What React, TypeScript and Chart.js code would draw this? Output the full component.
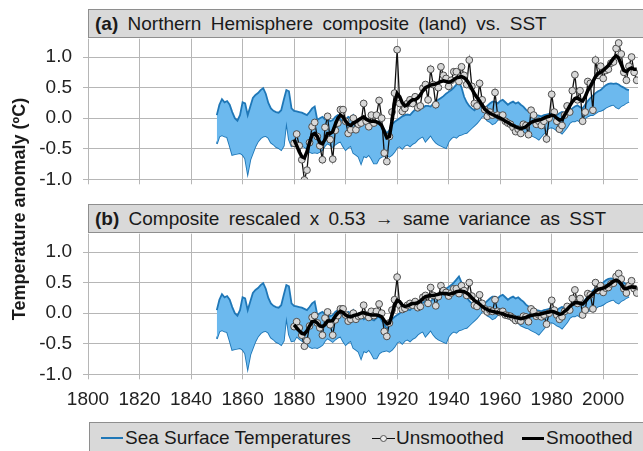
import React, { useEffect, useRef } from 'react';
import { Chart, registerables } from 'chart.js';

Chart.register(...registerables);

const FONT = '"Liberation Sans", Arial, sans-serif';

const X_TICKS = [1800, 1820, 1840, 1860, 1880, 1900, 1920, 1940, 1960, 1980, 2000];
const Y_TICKS = [-1.0, -0.5, 0.0, 0.5, 1.0];

const SST_START = 1850;
const SST_UPPER = [
  0.05, 0.22, 0.31, 0.26, 0.28, 0.22, 0.10, 0.00, -0.04, 0.05,
  0.26, 0.24, 0.05, 0.19, 0.33, 0.38, 0.41, 0.46, 0.49, 0.40,
  0.25, 0.16, 0.12, 0.10, 0.09, 0.13, 0.30, 0.46, 0.44, 0.16,
  0.12, 0.11, 0.10, 0.09, 0.07, 0.05, 0.10, 0.16, 0.19, -0.03,
  0.00, 0.02, -0.02, 0.00, -0.05, -0.03, 0.02, 0.05, -0.02, -0.05,
  -0.03, 0.02, 0.00, 0.05, -0.02, -0.05, -0.03, -0.10, -0.08, -0.08,
  -0.10, -0.12, -0.08, -0.05, -0.12, -0.18, -0.25, -0.20, -0.10, -0.06,
  -0.03, 0.00, 0.03, 0.05, 0.06, 0.05, 0.10, 0.14, 0.12, 0.15,
  0.17, 0.20, 0.20, 0.19, 0.24, 0.28, 0.30, 0.33, 0.36, 0.40,
  0.43, 0.46, 0.50, 0.55, 0.60, 0.50, 0.35, 0.26, 0.20, 0.16,
  0.13, 0.17, 0.20, 0.18, 0.16, 0.20, 0.24, 0.27, 0.27, 0.24,
  0.28, 0.30, 0.26, 0.22, 0.25, 0.27, 0.24, 0.26, 0.22, 0.19,
  0.14, 0.11, 0.09, 0.08, 0.05, 0.04, 0.03, 0.05, 0.06, 0.07,
  0.08, 0.06, 0.05, 0.08, 0.10, 0.09, 0.08, 0.12, 0.16, 0.19,
  0.21, 0.18, 0.16, 0.22, 0.28, 0.33, 0.37, 0.41, 0.44, 0.46,
  0.50, 0.54, 0.56, 0.57, 0.56, 0.57, 0.55, 0.52, 0.50, 0.47,
  0.46,
];
const SST_LOWER = [
  -0.42, -0.30, -0.28, -0.30, -0.31, -0.45, -0.60, -0.59, -0.58, -0.57,
  -0.60, -0.66, -0.90, -0.68, -0.57, -0.46, -0.38, -0.33, -0.30, -0.29,
  -0.32, -0.40, -0.43, -0.47, -0.49, -0.52, -0.45, -0.05, -0.35, -0.46,
  -0.45, -0.38, -0.42, -0.45, -0.47, -0.50, -0.55, -0.57, -0.56, -0.57,
  -0.55, -0.52, -0.45, -0.41, -0.44, -0.47, -0.43, -0.40, -0.38, -0.46,
  -0.52, -0.48, -0.45, -0.57, -0.60, -0.63, -0.74, -0.62, -0.64, -0.60,
  -0.66, -0.74, -0.74, -0.66, -0.63, -0.62, -0.61, -0.63, -0.60, -0.55,
  -0.48, -0.46, -0.50, -0.45, -0.43, -0.46, -0.42, -0.40, -0.35, -0.32,
  -0.30, -0.38, -0.33, -0.28, -0.35, -0.40, -0.43, -0.45, -0.47, -0.49,
  -0.38, -0.33, -0.30, -0.32, -0.28, -0.27, -0.25, -0.24, -0.20, -0.16,
  -0.12, -0.08, -0.03, 0.03, 0.02, -0.04, -0.06, -0.10, -0.08, -0.03,
  0.01, -0.03, -0.06, -0.08, -0.10, -0.12, -0.13, -0.16, -0.20, -0.22,
  -0.24, -0.25, -0.28, -0.30, -0.32, -0.35, -0.30, -0.25, -0.20, -0.16,
  -0.15, -0.17, -0.20, -0.22, -0.25, -0.20, -0.15, -0.08, -0.05, -0.05,
  -0.03, -0.06, -0.05, 0.00, 0.03, 0.05, 0.05, 0.08, 0.11, 0.12,
  0.14, 0.17, 0.19, 0.21, 0.22, 0.18, 0.16, 0.20, 0.22, 0.25,
  0.27,
];

const COMP_START = 1880;
const A_UNSMOOTHED = [
  -0.41, -0.26, -0.45, -0.68, -1.01, -0.85, -0.40, -0.14, -0.07, -0.30,
  -0.45, -0.68, -0.15, 0.03, -0.35, -0.67, -0.20, -0.08, 0.14, 0.14,
  -0.05, -0.25, -0.19, 0.00, -0.19, -0.10, -0.08, 0.24, -0.05, -0.14,
  0.05, -0.08, 0.05, 0.29, 0.00, -0.57, -0.71, -0.30, 0.10, 0.41,
  1.12, 0.24, 0.11, 0.16, 0.24, 0.30, 0.24, 0.35, 0.17, 0.20,
  0.49, 0.55, 0.30, 0.80, 0.55, 0.22, 0.50, 0.84, 0.70, 0.65,
  0.52, 0.62, 0.76, 0.76, 0.60, 0.84, 0.70, 0.55, 0.95, 0.52,
  0.24, 0.20, 0.57, 0.30, 0.14, 0.03, 0.10, 0.05, 0.42, 0.05,
  0.02, 0.05, -0.05, -0.08, -0.10, -0.15, -0.22, -0.18, -0.25, -0.10,
  -0.12, -0.27, 0.13, 0.05, -0.10, -0.05, -0.12, -0.05, -0.34, 0.00,
  0.39, 0.10, -0.05, -0.18, -0.12, 0.05, 0.20, 0.10, 0.45, 0.71,
  0.30, 0.45, -0.05, 0.10, 0.60, 0.57, 0.13, 0.95, 0.70, 0.85,
  0.65, 0.78, 0.80, 0.90, 0.92, 1.14, 1.23, 1.05, 0.75, 0.62,
  0.85, 1.00, 0.75, 0.62,
];
const A_SMOOTHED = [
  -0.35, -0.45, -0.55, -0.63, -0.65, -0.55, -0.40, -0.27, -0.25, -0.30,
  -0.40, -0.42, -0.35, -0.25, -0.25, -0.22, -0.10, 0.00, 0.05, 0.02,
  -0.05, -0.10, -0.12, -0.08, -0.06, -0.03, 0.00, 0.02, -0.02, -0.04,
  -0.05, -0.05, -0.06, -0.08, -0.12, -0.22, -0.32, -0.30, -0.05, 0.25,
  0.40, 0.35, 0.25, 0.20, 0.22, 0.27, 0.30, 0.30, 0.33, 0.38,
  0.45, 0.50, 0.52, 0.54, 0.55, 0.56, 0.58, 0.60, 0.61, 0.60,
  0.59, 0.60, 0.63, 0.66, 0.67, 0.68, 0.66, 0.62, 0.56, 0.48,
  0.40, 0.34, 0.28, 0.21, 0.15, 0.11, 0.08, 0.06, 0.04, 0.02,
  0.00, -0.02, -0.05, -0.07, -0.10, -0.12, -0.14, -0.16, -0.17, -0.16,
  -0.14, -0.10, -0.07, -0.05, -0.04, -0.03, -0.02, 0.00, 0.02, 0.03,
  0.05, 0.04, 0.00, -0.03, -0.02, 0.05, 0.12, 0.20, 0.27, 0.32,
  0.33, 0.30, 0.28, 0.35, 0.45, 0.52, 0.60, 0.68, 0.73, 0.75,
  0.78, 0.82, 0.86, 0.92, 0.98, 1.02, 0.98, 0.88, 0.78, 0.76,
  0.80, 0.82, 0.80, 0.80,
];
const B_UNSMOOTHED = [
  -0.22, -0.14, -0.24, -0.36, -0.54, -0.45, -0.21, -0.07, -0.04, -0.16,
  -0.24, -0.36, -0.08, 0.02, -0.19, -0.36, -0.11, -0.04, 0.07, 0.07,
  -0.03, -0.13, -0.10, 0.00, -0.10, -0.05, -0.04, 0.13, -0.03, -0.07,
  0.03, -0.04, 0.03, 0.15, 0.00, -0.30, -0.38, -0.16, 0.05, 0.22,
  0.59, 0.13, 0.06, 0.08, 0.13, 0.16, 0.13, 0.19, 0.09, 0.11,
  0.26, 0.29, 0.16, 0.42, 0.29, 0.12, 0.27, 0.45, 0.37, 0.34,
  0.28, 0.33, 0.40, 0.40, 0.32, 0.45, 0.37, 0.29, 0.50, 0.28,
  0.13, 0.11, 0.30, 0.16, 0.07, 0.02, 0.05, 0.03, 0.22, 0.03,
  0.01, 0.03, -0.03, -0.04, -0.05, -0.08, -0.12, -0.10, -0.13, -0.05,
  -0.06, -0.14, 0.07, 0.03, -0.05, -0.03, -0.06, -0.03, -0.18, 0.00,
  0.21, 0.05, -0.03, -0.10, -0.06, 0.03, 0.11, 0.05, 0.24, 0.38,
  0.16, 0.24, -0.03, 0.05, 0.32, 0.30, 0.07, 0.50, 0.37, 0.45,
  0.34, 0.41, 0.42, 0.48, 0.49, 0.60, 0.65, 0.56, 0.40, 0.33,
  0.45, 0.53, 0.40, 0.33,
];
const B_SMOOTHED = [
  -0.19, -0.24, -0.29, -0.33, -0.34, -0.29, -0.21, -0.14, -0.13, -0.16,
  -0.21, -0.22, -0.19, -0.13, -0.13, -0.12, -0.05, 0.00, 0.03, 0.01,
  -0.03, -0.05, -0.06, -0.04, -0.03, -0.02, 0.00, 0.01, -0.01, -0.02,
  -0.03, -0.03, -0.03, -0.04, -0.06, -0.12, -0.17, -0.16, -0.03, 0.13,
  0.21, 0.19, 0.13, 0.11, 0.12, 0.14, 0.16, 0.16, 0.17, 0.20,
  0.24, 0.27, 0.28, 0.29, 0.29, 0.30, 0.31, 0.32, 0.32, 0.32,
  0.31, 0.32, 0.33, 0.35, 0.36, 0.36, 0.35, 0.33, 0.30, 0.25,
  0.21, 0.18, 0.15, 0.11, 0.08, 0.06, 0.04, 0.03, 0.02, 0.01,
  0.00, -0.01, -0.03, -0.04, -0.05, -0.06, -0.07, -0.08, -0.09, -0.08,
  -0.07, -0.05, -0.04, -0.03, -0.02, -0.02, -0.01, 0.00, 0.01, 0.02,
  0.03, 0.02, 0.00, -0.02, -0.01, 0.03, 0.06, 0.11, 0.14, 0.17,
  0.17, 0.16, 0.15, 0.19, 0.24, 0.28, 0.32, 0.36, 0.39, 0.40,
  0.41, 0.43, 0.46, 0.49, 0.52, 0.54, 0.52, 0.47, 0.41, 0.40,
  0.42, 0.43, 0.42, 0.42,
];

const TITLE_A_BOLD = '(a)';
const TITLE_A = 'Northern Hemisphere composite (land) vs. SST';
const TITLE_B_BOLD = '(b)';
const TITLE_B = 'Composite rescaled x 0.53 \u2192 same variance as SST';
const Y_TITLE = 'Temperature anomaly (\u00baC)';
const LEGEND_SST = 'Sea Surface Temperatures';
const LEGEND_UNSM = 'Unsmoothed';
const LEGEND_SMOOTH = 'Smoothed';

const toPts = (start: number, arr: number[]) => arr.map((y, i) => ({ x: start + i, y }));

const GRID = '#b6b6b6';
const BAND_FILL = '#6cb9ee';
const BAND_EDGE = '#1f77b7';

const PANEL_H = 225;
const X_AXIS_H = 45.7;

function Panel(props: {
  top: number;
  showXLabels: boolean;
  unsm: number[];
  smooth: number[];
}) {
  const ref = useRef<HTMLCanvasElement>(null);
  useEffect(() => {
    const chart = new Chart(ref.current as HTMLCanvasElement, {
      type: 'line',
      data: {
        datasets: [
          {
            label: LEGEND_SMOOTH,
            data: toPts(COMP_START, props.smooth),
            borderColor: '#000000',
            borderWidth: 3.5,
            pointRadius: 0,
            fill: false,
            tension: 0,
          },
          {
            label: LEGEND_UNSM,
            data: toPts(COMP_START, props.unsm),
            borderColor: '#111111',
            borderWidth: 1.3,
            pointRadius: 3.4,
            pointBackgroundColor: '#d8d8d8',
            pointBorderColor: '#4d4d4d',
            pointBorderWidth: 1,
            fill: false,
            tension: 0,
          },
          {
            label: LEGEND_SST + ' upper',
            data: toPts(SST_START, SST_UPPER),
            borderColor: BAND_EDGE,
            borderWidth: 1.8,
            pointRadius: 0,
            backgroundColor: BAND_FILL,
            fill: '+1',
            tension: 0,
          },
          {
            label: LEGEND_SST + ' lower',
            data: toPts(SST_START, SST_LOWER),
            borderColor: BAND_EDGE,
            borderWidth: 1.8,
            pointRadius: 0,
            fill: false,
            tension: 0,
          },
        ],
      },
      options: {
        animation: false,
        responsive: false,
        maintainAspectRatio: false,
        events: [],
        layout: { padding: { top: 38.7, right: 0, bottom: 0, left: 0 } },
        plugins: { legend: { display: false }, tooltip: { enabled: false } },
        scales: {
          x: {
            type: 'linear',
            min: 1800,
            max: 2013.5,
            afterBuildTicks: (s: any) => {
              s.ticks = X_TICKS.map((v) => ({ value: v }));
            },
            afterFit: (s: any) => {
              s.height = X_AXIS_H;
            },
            grid: { color: GRID, lineWidth: 1, tickLength: 5, drawTicks: true },
            border: { display: false },
            ticks: {
              display: props.showXLabels,
              autoSkip: false,
              maxRotation: 0,
              padding: 9,
              color: '#222222',
              font: { family: FONT, size: 19 },
              callback: (v: any) => String(v),
            },
          },
          y: {
            type: 'linear',
            min: -1.0,
            max: 1.3,
            afterBuildTicks: (s: any) => {
              s.ticks = Y_TICKS.map((v) => ({ value: v }));
            },
            afterFit: (s: any) => {
              s.width = 88;
            },
            grid: { color: GRID, lineWidth: 1, tickLength: 5 },
            border: { display: false },
            ticks: {
              padding: 11,
              color: '#222222',
              font: { family: FONT, size: 19 },
              callback: (v: any) => Number(v).toFixed(1),
            },
          },
        },
      },
    } as any);
    return () => chart.destroy();
  }, []);
  return (
    <canvas
      ref={ref}
      width={643}
      height={PANEL_H}
      style={{ position: 'absolute', left: 0, top: props.top, width: 643, height: PANEL_H }}
    />
  );
}

function TitleBox(props: { top: number; bold: string; text: string }) {
  return (
    <div
      style={{
        position: 'absolute',
        left: 88,
        top: props.top,
        width: 600,
        height: 29,
        boxSizing: 'border-box',
        background: '#d9d9d9',
        border: '1px solid #8e8e8e',
        fontFamily: FONT,
        fontSize: 19,
        lineHeight: '27px',
        paddingLeft: 6,
        color: '#1a1a1a',
        whiteSpace: 'nowrap',
        wordSpacing: 4,
      }}
    >
      <b>{props.bold}</b> {props.text}
    </div>
  );
}

export default function App() {
  return (
    <div
      style={{
        position: 'fixed',
        left: 0,
        top: 0,
        width: 643,
        height: 451,
        overflow: 'hidden',
        background: '#ffffff',
      }}
    >
      <Panel top={0} showXLabels={false} unsm={A_UNSMOOTHED} smooth={A_SMOOTHED} />
      <Panel top={195} showXLabels={true} unsm={B_UNSMOOTHED} smooth={B_SMOOTHED} />
      <TitleBox top={9} bold={TITLE_A_BOLD} text={TITLE_A} />
      <TitleBox top={204} bold={TITLE_B_BOLD} text={TITLE_B} />
      <div
        style={{
          position: 'absolute',
          left: 18.5 - 150,
          top: 208.5 - 12,
          width: 300,
          height: 24,
          lineHeight: '24px',
          textAlign: 'center',
          transform: 'rotate(-90deg)',
          fontFamily: FONT,
          fontWeight: 'bold',
          fontSize: 18,
          color: '#1a1a1a',
          whiteSpace: 'nowrap',
        }}
      >
        {Y_TITLE}
      </div>
      <div
        style={{
          position: 'absolute',
          left: 89,
          top: 422,
          width: 600,
          height: 40,
          boxSizing: 'border-box',
          background: '#d9d9d9',
          border: '1px solid #8e8e8e',
          fontFamily: FONT,
          fontSize: 19,
          color: '#1a1a1a',
          whiteSpace: 'nowrap',
        }}
      >
        <div style={{ position: 'absolute', left: 11, top: 14, width: 22, height: 2, background: BAND_EDGE }} />
        <div style={{ position: 'absolute', left: 35, top: 3, lineHeight: '24px' }}>{LEGEND_SST}</div>
        <div style={{ position: 'absolute', left: 282, top: 14.5, width: 23, height: 1.3, background: '#111' }} />
        <div
          style={{
            position: 'absolute',
            left: 290,
            top: 11.5,
            width: 7,
            height: 7,
            boxSizing: 'border-box',
            borderRadius: '50%',
            background: '#ececec',
            border: '1px solid #555',
          }}
        />
        <div style={{ position: 'absolute', left: 306, top: 3, lineHeight: '24px' }}>{LEGEND_UNSM}</div>
        <div style={{ position: 'absolute', left: 432, top: 13.5, width: 22, height: 3.5, background: '#000' }} />
        <div style={{ position: 'absolute', left: 456, top: 3, lineHeight: '24px' }}>{LEGEND_SMOOTH}</div>
      </div>
    </div>
  );
}
